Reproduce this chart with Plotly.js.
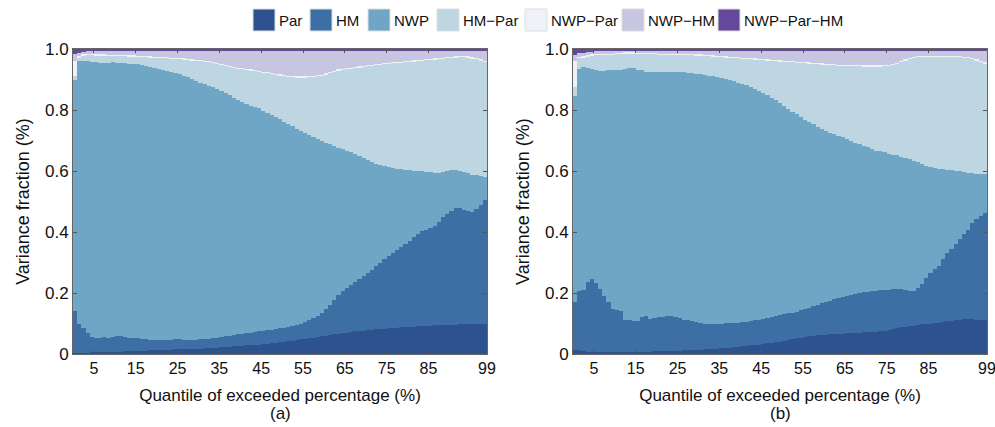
<!DOCTYPE html>
<html>
<head>
<meta charset="utf-8">
<script src="https://cdn.plot.ly/plotly-3.0.1.min.js"></script>
<style>html,body{margin:0;padding:0;background:#fff;}#chart{width:995px;height:427px;}</style>
</head>
<body>
<div id="chart"></div>
<script>
const quantiles = [1,2,3,4,5,6,7,8,9,10,11,12,13,14,15,16,17,18,19,20,21,22,23,24,25,26,27,28,29,30,31,32,33,34,35,36,37,38,39,40,41,42,43,44,45,46,47,48,49,50,51,52,53,54,55,56,57,58,59,60,61,62,63,64,65,66,67,68,69,70,71,72,73,74,75,76,77,78,79,80,81,82,83,84,85,86,87,88,89,90,91,92,93,94,95,96,97,98,99];
const xTickVals = [5,15,25,35,45,55,65,75,85,99];
const yTickVals = [0,0.2,0.4,0.6,0.8,1.0];
const yTickText = ['0','0.2','0.4','0.6','0.8','1.0'];
const seriesNames = ['Par','HM','NWP','HM\u2212Par','NWP\u2212Par','NWP\u2212HM','NWP\u2212Par\u2212HM'];
const seriesColors = ['#2e5290','#3d6fa5','#6fa5c5','#bdd6e2','#eef1f8','#c8c5e0','#63489b'];

// ---- Panel (a) ----
const parA = [0.003,0.003,0.004,0.004,0.005,0.005,0.006,0.006,0.007,0.007,
0.008,0.008,0.009,0.009,0.010,0.010,0.011,0.011,0.012,0.012,
0.013,0.013,0.014,0.014,0.015,0.015,0.016,0.016,0.017,0.018,
0.018,0.019,0.020,0.020,0.021,0.022,0.023,0.024,0.025,0.026,
0.027,0.028,0.029,0.030,0.031,0.032,0.034,0.035,0.036,0.038,
0.040,0.042,0.044,0.046,0.048,0.050,0.052,0.054,0.056,0.058,
0.060,0.062,0.064,0.066,0.068,0.070,0.072,0.074,0.076,0.077,
0.078,0.080,0.081,0.082,0.083,0.084,0.085,0.086,0.087,0.088,
0.089,0.090,0.091,0.092,0.092,0.093,0.094,0.094,0.095,0.095,
0.096,0.096,0.097,0.097,0.098,0.098,0.099,0.099,0.100];
const hmA = [0.137,0.097,0.081,0.064,0.050,0.047,0.047,0.049,0.047,0.048,
0.050,0.050,0.046,0.045,0.043,0.042,0.039,0.037,0.035,0.034,
0.032,0.032,0.032,0.033,0.033,0.033,0.031,0.030,0.029,0.029,
0.030,0.030,0.030,0.032,0.033,0.034,0.035,0.036,0.037,0.038,
0.039,0.040,0.041,0.042,0.043,0.044,0.044,0.045,0.046,0.046,
0.046,0.046,0.047,0.049,0.052,0.056,0.060,0.064,0.070,0.076,
0.088,0.100,0.114,0.129,0.137,0.145,0.153,0.161,0.169,0.178,
0.187,0.197,0.208,0.218,0.227,0.236,0.245,0.254,0.263,0.272,
0.283,0.294,0.304,0.310,0.316,0.319,0.326,0.338,0.353,0.365,
0.374,0.382,0.381,0.375,0.370,0.367,0.376,0.389,0.405];
const nwpA = [0.760,0.860,0.877,0.892,0.903,0.904,0.901,0.899,0.901,0.901,
0.897,0.896,0.898,0.898,0.898,0.898,0.898,0.897,0.895,0.893,
0.891,0.887,0.883,0.878,0.873,0.869,0.865,0.861,0.855,0.849,
0.842,0.836,0.830,0.823,0.815,0.806,0.797,0.788,0.779,0.770,
0.761,0.752,0.744,0.738,0.732,0.722,0.712,0.702,0.694,0.686,
0.676,0.666,0.655,0.643,0.630,0.618,0.606,0.594,0.578,0.563,
0.544,0.525,0.504,0.481,0.466,0.451,0.436,0.420,0.403,0.387,
0.371,0.353,0.335,0.319,0.305,0.292,0.279,0.267,0.255,0.243,
0.230,0.217,0.205,0.197,0.190,0.185,0.175,0.161,0.148,0.140,
0.133,0.125,0.122,0.125,0.125,0.123,0.111,0.095,0.075];
const hmParA = [0.010,0.010,0.016,0.019,0.021,0.022,0.024,0.024,0.022,0.021,
0.021,0.022,0.023,0.023,0.024,0.024,0.025,0.028,0.030,0.032,
0.035,0.038,0.040,0.043,0.046,0.049,0.053,0.056,0.061,0.065,
0.070,0.073,0.077,0.079,0.082,0.086,0.090,0.093,0.097,0.101,
0.106,0.111,0.115,0.117,0.119,0.124,0.130,0.135,0.139,0.143,
0.149,0.155,0.161,0.168,0.176,0.182,0.189,0.196,0.206,0.215,
0.224,0.233,0.243,0.253,0.260,0.267,0.274,0.282,0.291,0.299,
0.307,0.315,0.323,0.329,0.335,0.339,0.344,0.347,0.350,0.354,
0.356,0.358,0.360,0.362,0.365,0.367,0.370,0.374,0.372,0.369,
0.368,0.369,0.373,0.376,0.378,0.380,0.380,0.379,0.377];
const nwpParA = [0.050,0.006,0.004,0.004,0.004,0.004,0.004,0.004,0.004,0.004,
0.004,0.004,0.004,0.004,0.004,0.004,0.004,0.004,0.004,0.004,
0.004,0.004,0.004,0.004,0.004,0.004,0.004,0.004,0.004,0.004,
0.004,0.004,0.004,0.004,0.004,0.004,0.004,0.004,0.004,0.004,
0.004,0.004,0.004,0.004,0.004,0.004,0.004,0.004,0.004,0.004,
0.004,0.004,0.004,0.004,0.004,0.004,0.004,0.004,0.004,0.004,
0.004,0.004,0.004,0.004,0.004,0.004,0.004,0.004,0.004,0.004,
0.004,0.004,0.004,0.004,0.004,0.004,0.004,0.004,0.004,0.004,
0.004,0.004,0.004,0.004,0.004,0.004,0.004,0.004,0.004,0.004,
0.004,0.004,0.004,0.004,0.005,0.005,0.005,0.005,0.005];
const nwpHmA = [0.025,0.012,0.009,0.010,0.012,0.013,0.013,0.013,0.014,0.014,
0.015,0.015,0.015,0.016,0.016,0.017,0.018,0.018,0.019,0.020,
0.020,0.021,0.022,0.023,0.024,0.025,0.026,0.028,0.029,0.030,
0.031,0.033,0.034,0.037,0.040,0.043,0.046,0.050,0.053,0.056,
0.058,0.060,0.062,0.064,0.066,0.069,0.071,0.074,0.076,0.078,
0.080,0.082,0.084,0.085,0.085,0.085,0.084,0.083,0.081,0.079,
0.075,0.071,0.066,0.062,0.060,0.058,0.056,0.054,0.052,0.050,
0.048,0.046,0.044,0.043,0.041,0.040,0.038,0.037,0.036,0.034,
0.033,0.032,0.031,0.030,0.028,0.027,0.026,0.024,0.023,0.020,
0.018,0.017,0.016,0.016,0.017,0.020,0.022,0.026,0.031];
const nwpParHmA = [0.015,0.012,0.009,0.007,0.005,0.005,0.005,0.005,0.005,0.005,
0.005,0.005,0.005,0.005,0.005,0.005,0.005,0.005,0.005,0.005,
0.005,0.005,0.005,0.005,0.005,0.005,0.005,0.005,0.005,0.005,
0.005,0.005,0.005,0.005,0.005,0.005,0.005,0.005,0.005,0.005,
0.005,0.005,0.005,0.005,0.005,0.005,0.005,0.005,0.005,0.005,
0.005,0.005,0.005,0.005,0.005,0.005,0.005,0.005,0.005,0.005,
0.005,0.005,0.005,0.005,0.005,0.005,0.005,0.005,0.005,0.005,
0.005,0.005,0.005,0.005,0.005,0.005,0.005,0.005,0.005,0.005,
0.005,0.005,0.005,0.005,0.005,0.005,0.005,0.005,0.005,0.007,
0.007,0.007,0.007,0.007,0.007,0.007,0.007,0.007,0.007];

// ---- Panel (b) ----
const parB = [0.012,0.012,0.010,0.008,0.007,0.006,0.006,0.006,0.006,0.006,
0.006,0.006,0.007,0.007,0.007,0.007,0.008,0.008,0.008,0.009,
0.009,0.009,0.010,0.010,0.011,0.011,0.012,0.012,0.013,0.013,
0.014,0.015,0.016,0.017,0.018,0.019,0.020,0.021,0.022,0.024,
0.025,0.026,0.028,0.029,0.031,0.033,0.035,0.037,0.039,0.041,
0.043,0.046,0.049,0.052,0.054,0.056,0.058,0.060,0.061,0.062,
0.063,0.064,0.065,0.066,0.067,0.068,0.069,0.070,0.070,0.071,
0.071,0.072,0.073,0.074,0.076,0.079,0.082,0.085,0.087,0.089,
0.091,0.093,0.095,0.097,0.099,0.100,0.101,0.103,0.105,0.107,
0.109,0.111,0.113,0.115,0.115,0.114,0.113,0.112,0.112];
const hmB = [0.158,0.193,0.200,0.227,0.239,0.226,0.207,0.184,0.166,0.142,
0.139,0.136,0.105,0.103,0.101,0.101,0.114,0.115,0.108,0.109,
0.111,0.112,0.114,0.115,0.109,0.107,0.101,0.099,0.095,0.091,
0.087,0.085,0.084,0.083,0.082,0.081,0.081,0.080,0.080,0.079,
0.079,0.080,0.080,0.081,0.081,0.082,0.083,0.084,0.085,0.086,
0.087,0.087,0.087,0.087,0.089,0.091,0.093,0.096,0.100,0.104,
0.107,0.111,0.115,0.118,0.121,0.123,0.125,0.128,0.130,0.131,
0.133,0.134,0.135,0.135,0.134,0.132,0.130,0.128,0.125,0.121,
0.117,0.115,0.120,0.131,0.149,0.165,0.177,0.187,0.205,0.223,
0.236,0.251,0.265,0.277,0.293,0.314,0.329,0.340,0.351];
const nwpB = [0.676,0.729,0.731,0.703,0.687,0.700,0.715,0.738,0.758,0.782,
0.785,0.788,0.822,0.827,0.829,0.824,0.808,0.801,0.807,0.805,
0.803,0.803,0.802,0.801,0.805,0.805,0.810,0.811,0.812,0.815,
0.817,0.815,0.813,0.811,0.808,0.805,0.801,0.798,0.793,0.787,
0.782,0.775,0.767,0.759,0.751,0.741,0.730,0.719,0.708,0.695,
0.683,0.671,0.659,0.647,0.634,0.621,0.610,0.597,0.584,0.571,
0.560,0.550,0.540,0.531,0.522,0.513,0.504,0.495,0.488,0.481,
0.474,0.466,0.459,0.455,0.451,0.446,0.442,0.438,0.435,0.433,
0.431,0.426,0.414,0.396,0.370,0.347,0.331,0.317,0.295,0.274,
0.258,0.239,0.221,0.205,0.187,0.165,0.149,0.138,0.126];
const hmParB = [0.030,0.036,0.031,0.037,0.045,0.048,0.052,0.052,0.051,0.051,
0.052,0.054,0.051,0.048,0.048,0.052,0.053,0.058,0.059,0.059,
0.058,0.057,0.055,0.055,0.055,0.057,0.057,0.057,0.059,0.059,
0.060,0.062,0.063,0.064,0.066,0.068,0.070,0.072,0.075,0.079,
0.082,0.086,0.091,0.096,0.101,0.107,0.114,0.121,0.128,0.137,
0.145,0.153,0.161,0.169,0.177,0.185,0.191,0.198,0.205,0.212,
0.218,0.222,0.226,0.230,0.234,0.240,0.245,0.250,0.255,0.259,
0.264,0.270,0.275,0.278,0.282,0.287,0.292,0.299,0.309,0.319,
0.328,0.337,0.344,0.350,0.356,0.362,0.365,0.367,0.369,0.370,
0.370,0.372,0.374,0.374,0.374,0.373,0.371,0.367,0.363];
const nwpParB = [0.085,0.005,0.005,0.004,0.004,0.004,0.004,0.004,0.004,0.004,
0.004,0.004,0.004,0.004,0.004,0.004,0.004,0.004,0.004,0.004,
0.004,0.004,0.004,0.004,0.004,0.004,0.004,0.004,0.004,0.004,
0.004,0.004,0.004,0.004,0.004,0.004,0.004,0.004,0.004,0.004,
0.004,0.004,0.004,0.004,0.004,0.004,0.004,0.004,0.004,0.004,
0.004,0.004,0.004,0.004,0.004,0.004,0.004,0.004,0.004,0.004,
0.004,0.004,0.004,0.004,0.004,0.004,0.004,0.004,0.004,0.004,
0.004,0.004,0.004,0.004,0.004,0.004,0.004,0.004,0.004,0.004,
0.004,0.004,0.004,0.004,0.004,0.004,0.004,0.004,0.004,0.004,
0.004,0.004,0.004,0.004,0.004,0.004,0.004,0.004,0.004];
const nwpHmB = [0.020,0.011,0.010,0.010,0.009,0.009,0.009,0.009,0.008,0.008,
0.009,0.007,0.006,0.006,0.006,0.007,0.008,0.009,0.009,0.009,
0.010,0.010,0.010,0.010,0.011,0.011,0.011,0.012,0.012,0.013,
0.013,0.014,0.015,0.016,0.017,0.018,0.019,0.020,0.021,0.022,
0.023,0.024,0.025,0.026,0.027,0.028,0.029,0.030,0.031,0.032,
0.033,0.034,0.035,0.036,0.037,0.038,0.039,0.040,0.041,0.042,
0.043,0.044,0.045,0.046,0.047,0.047,0.048,0.048,0.048,0.049,
0.049,0.049,0.049,0.049,0.048,0.047,0.045,0.041,0.035,0.029,
0.022,0.018,0.016,0.015,0.015,0.015,0.015,0.015,0.015,0.015,
0.016,0.016,0.016,0.018,0.020,0.023,0.027,0.032,0.037];
const nwpParHmB = [0.019,0.014,0.013,0.011,0.009,0.007,0.007,0.007,0.007,0.007,
0.005,0.005,0.005,0.005,0.005,0.005,0.005,0.005,0.005,0.005,
0.005,0.005,0.005,0.005,0.005,0.005,0.005,0.005,0.005,0.005,
0.005,0.005,0.005,0.005,0.005,0.005,0.005,0.005,0.005,0.005,
0.005,0.005,0.005,0.005,0.005,0.005,0.005,0.005,0.005,0.005,
0.005,0.005,0.005,0.005,0.005,0.005,0.005,0.005,0.005,0.005,
0.005,0.005,0.005,0.005,0.005,0.005,0.005,0.005,0.005,0.005,
0.005,0.005,0.005,0.005,0.005,0.005,0.005,0.005,0.005,0.005,
0.007,0.007,0.007,0.007,0.007,0.007,0.007,0.007,0.007,0.007,
0.007,0.007,0.007,0.007,0.007,0.007,0.007,0.007,0.007];

const panelA = [parA, hmA, nwpA, hmParA, nwpParA, nwpHmA, nwpParHmA];
const panelB = [parB, hmB, nwpB, hmParB, nwpParB, nwpHmB, nwpParHmB];

// ---- Build traces ----
const traces = [];
function addPanel(series, xa, ya) {
  series.forEach((vals, i) => {
    traces.push({
      type: 'bar', x: quantiles, y: vals, offset: -1, width: 1,
      name: seriesNames[i], xaxis: xa, yaxis: ya,
      marker: {color: seriesColors[i], line: {width: 0}},
      showlegend: false, hoverinfo: 'skip'
    });
  });
}
addPanel(panelA, 'x', 'y');
addPanel(panelB, 'x2', 'y2');

// ---- Layout ----
const W = 995, H = 427, ML = 73, MR = 8, MT = 49, MB = 73;
const PW = W - ML - MR, PH = H - MT - MB;
const px2x = p => (p - ML) / PW;
const px2y = p => (H - MB - p) / PH;
const FONT = 'Liberation Sans, Arial, sans-serif';

function xAxis(domain) {
  return {
    domain: domain, range: [0, 99], tickmode: 'array', tickvals: xTickVals,
    ticks: 'inside', ticklen: 4, tickcolor: '#555', tickwidth: 1,
    showline: true, linecolor: '#666', linewidth: 1, mirror: 'ticks',
    showgrid: false, zeroline: false, fixedrange: true,
    ticklabeloverflow: 'allow',
    tickfont: {family: FONT, size: 16, color: '#111'},
    title: {text: 'Quantile of exceeded percentage (%)', font: {family: FONT, size: 17, color: '#111'}, standoff: 12}
  };
}
function yAxis(anchor) {
  return {
    anchor: anchor, range: [0, 1], tickmode: 'array', tickvals: yTickVals, ticktext: yTickText,
    ticks: 'inside', ticklen: 4, tickcolor: '#555', tickwidth: 1,
    showline: true, linecolor: '#666', linewidth: 1, mirror: 'ticks',
    showgrid: false, zeroline: false, fixedrange: true,
    tickfont: {family: FONT, size: 17, color: '#111'},
    title: {text: 'Variance fraction (%)', font: {family: FONT, size: 18, color: '#111'}, standoff: 10}
  };
}

const domA = [0, px2x(487)];
const domB = [px2x(573), 1];

// custom legend (swatches + labels)
const legendBoxX = [253, 310, 368, 437, 525, 622, 718];
const shapes = [];
const annotations = [];
seriesNames.forEach((nm, i) => {
  const x0 = legendBoxX[i];
  shapes.push({type: 'rect', xref: 'paper', yref: 'paper',
    x0: px2x(x0), x1: px2x(x0 + 22), y0: px2y(31), y1: px2y(9),
    fillcolor: seriesColors[i], line: {width: 1, color: '#dddddd'}});
  annotations.push({xref: 'paper', yref: 'paper', x: px2x(x0 + 24), y: px2y(20),
    xanchor: 'left', yanchor: 'middle', showarrow: false, text: nm,
    font: {family: FONT, size: 15, color: '#111'}});
});
annotations.push({xref: 'paper', yref: 'paper', x: (domA[0] + domA[1]) / 2, y: px2y(413),
  xanchor: 'center', yanchor: 'middle', showarrow: false, text: '(a)', font: {family: FONT, size: 17, color: '#111'}});
annotations.push({xref: 'paper', yref: 'paper', x: (domB[0] + domB[1]) / 2, y: px2y(413),
  xanchor: 'center', yanchor: 'middle', showarrow: false, text: '(b)', font: {family: FONT, size: 17, color: '#111'}});

const layout = {
  width: W, height: H,
  margin: {l: ML, r: MR, t: MT, b: MB, pad: 0},
  paper_bgcolor: '#ffffff', plot_bgcolor: '#ffffff',
  barmode: 'stack', bargap: 0, bargroupgap: 0,
  showlegend: false,
  xaxis: xAxis(domA), yaxis: yAxis('x'),
  xaxis2: Object.assign(xAxis(domB), {anchor: 'y2'}), yaxis2: yAxis('x2'),
  shapes: shapes, annotations: annotations,
  font: {family: FONT}
};

Plotly.newPlot('chart', traces, layout, {displayModeBar: false, staticPlot: true});
</script>
</body>
</html>
